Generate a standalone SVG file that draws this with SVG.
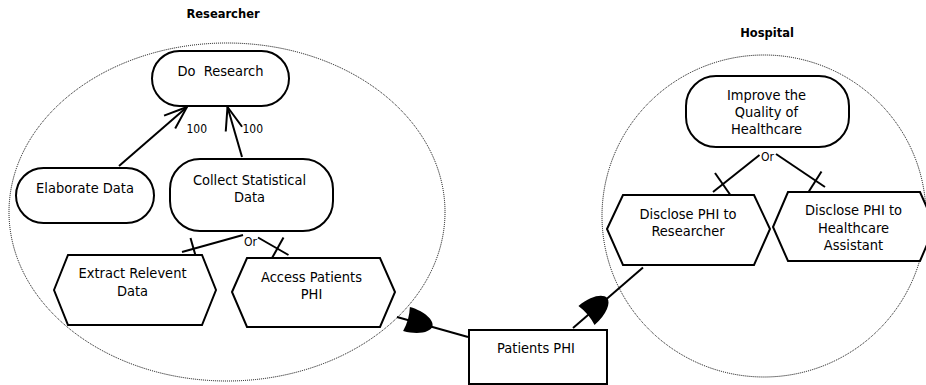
<svg xmlns="http://www.w3.org/2000/svg" width="926" height="385" viewBox="0 0 926 385">
<style>
.actor{fill:none;stroke:#000;stroke-width:1;stroke-dasharray:1 1}
.title{font-family:"DejaVu Sans",Verdana,sans-serif;font-weight:bold;font-size:11.5px;text-anchor:middle;fill:#000}
.shape{fill:#fff;stroke:#000;stroke-width:2}
.t{font-family:"DejaVu Sans Condensed","DejaVu Sans",sans-serif;font-stretch:condensed;font-size:14.5px;text-anchor:middle;fill:#000}
.lbl{font-family:"DejaVu Sans Condensed","DejaVu Sans",sans-serif;font-stretch:condensed;font-size:12px;fill:#000}
.ln{fill:none;stroke:#000;stroke-width:2}
.dep{fill:#000;stroke:none}
</style>
<defs>
<marker id="open" markerUnits="userSpaceOnUse" viewBox="-25 -10 27 20" markerWidth="27" markerHeight="20" refX="0" refY="0" orient="auto" overflow="visible">
<path d="M-23,-8.5 L0,0 L-23,8.5" fill="none" stroke="#000" stroke-width="2"/>
</marker>
<path id="dsym" d="M0,-12.5 C16,-12.5 27,-6 27,0 C27,6 16,12.5 0,12.5 Q3,0 0,-12.5 Z"/>
</defs>

<g id="actor-researcher">
<ellipse class="actor" cx="227" cy="212" rx="218" ry="169"/>
<text class="title" x="223" y="18">Researcher</text>
</g>
<g id="actor-hospital">
<ellipse class="actor" cx="764" cy="216" rx="162" ry="161"/>
<text class="title" x="767" y="37">Hospital</text>
</g>

<g id="connectors">
<line class="ln" x1="119" y1="166" x2="187" y2="107" marker-end="url(#open)"/>
<line class="ln" x1="242" y1="157" x2="227.5" y2="107" marker-end="url(#open)"/>
<text class="lbl" x="186.5" y="133">100</text>
<text class="lbl" x="242.5" y="133">100</text>

<line class="ln" x1="243" y1="235" x2="182" y2="252"/>
<line class="ln" x1="190.5" y1="238" x2="196.5" y2="259"/>
<line class="ln" x1="258" y1="237.5" x2="288.5" y2="255"/>
<line class="ln" x1="283.5" y1="237.5" x2="271.5" y2="259"/>
<text class="lbl" x="250.5" y="245.5" text-anchor="middle">Or</text>

<line class="ln" x1="759.5" y1="155" x2="713" y2="192"/>
<line class="ln" x1="715" y1="173" x2="730" y2="194.5"/>
<line class="ln" x1="776" y1="154" x2="825" y2="187"/>
<line class="ln" x1="821.5" y1="171.5" x2="808.5" y2="192"/>
<text class="lbl" x="767.5" y="161" text-anchor="middle">Or</text>

<line class="ln" x1="397" y1="317" x2="468" y2="337"/>
<use href="#dsym" class="dep" transform="translate(406.5,319) rotate(15.7)"/>
<line class="ln" x1="573" y1="328" x2="643" y2="267.5"/>
<use href="#dsym" class="dep" transform="translate(586.5,315.5) rotate(-40.1)"/>
</g>

<g id="node-do-research">
<rect class="shape" x="152" y="51" width="137" height="55" rx="27.5" ry="27.5"/>
<text class="t" x="220.5" y="76" xml:space="preserve">Do  Research</text>
</g>
<g id="node-elaborate-data">
<rect class="shape" x="16" y="168" width="138" height="55" rx="27.5" ry="27.5"/>
<text class="t" x="85" y="193">Elaborate Data</text>
</g>
<g id="node-collect-statistical-data">
<rect class="shape" x="170" y="159" width="163" height="72" rx="30" ry="30"/>
<text class="t" x="249.5" y="185">Collect Statistical</text>
<text class="t" x="249.5" y="201.5">Data</text>
</g>
<g id="node-extract-relevent-data">
<polygon class="shape" points="54,290 68,255 202,255 216,290 202,325 68,325"/>
<text class="t" x="132.5" y="278">Extract Relevent</text>
<text class="t" x="132.5" y="296">Data</text>
</g>
<g id="node-access-patients-phi">
<polygon class="shape" points="232,292 247,258 380,258 395,292 380,327 247,327"/>
<text class="t" x="311.5" y="281.5">Access Patients</text>
<text class="t" x="311.5" y="299">PHI</text>
</g>
<g id="node-patients-phi">
<rect class="shape" x="469" y="330" width="138" height="54"/>
<text class="t" x="536" y="353">Patients PHI</text>
</g>
<g id="node-improve-quality">
<rect class="shape" x="686" y="76" width="163" height="71" rx="30" ry="30"/>
<text class="t" x="766.5" y="99.5">Improve the</text>
<text class="t" x="766.5" y="116.5">Quality of</text>
<text class="t" x="766.5" y="134">Healthcare</text>
</g>
<g id="node-disclose-researcher">
<polygon class="shape" points="607,229 623,195 754,195 770,229 754,265 623,265"/>
<text class="t" x="688" y="218.5">Disclose PHI to</text>
<text class="t" x="688" y="236">Researcher</text>
</g>
<g id="node-disclose-assistant">
<polygon class="shape" points="773,227 788,192 920,192 935,226 920,261 788,261"/>
<text class="t" x="853.5" y="214.5">Disclose PHI to</text>
<text class="t" x="853.5" y="232.5">Healthcare</text>
<text class="t" x="853.5" y="250">Assistant</text>
</g>
</svg>
